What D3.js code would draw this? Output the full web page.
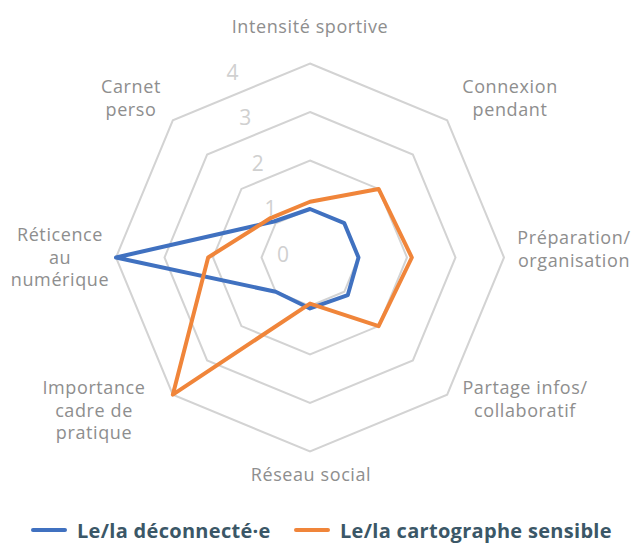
<!DOCTYPE html>
<html>
<head>
<meta charset="utf-8">
<script src="https://cdn.jsdelivr.net/npm/d3@7"></script>
<style>
  body { margin: 0; background: #fff; }
  text { font-family: "Open Sans", sans-serif; }
</style>
</head>
<body>
<div id="chart"></div>
<script>
const width = 632;
const height = 545;

// axes, clockwise from the top
const axes = [
    ["Intensité sportive"],
    ["Connexion", "pendant"],
    ["Préparation/", "organisation"],
    ["Partage infos/", "collaboratif"],
    ["Réseau social"],
    ["Importance", "cadre de", "pratique"],
    ["Réticence", "au", "numérique"],
    ["Carnet", "perso"]
];
const ticks = [0, 1, 2, 3, 4];
const seriesNames = ["Le/la déconnecté·e", "Le/la cartographe sensible"];
const deconnecte = [1.0, 1.0, 1.0, 1.1, 1.05, 1.0, 4.0, 1.05];
const cartographe = [1.15, 2.0, 2.1, 2.0, 0.95, 4.0, 2.1, 1.15];

const colors = ["#4071c0", "#f0853a"];

// layout: where each axis label block sits, relative to the centre
const labelOffsets = [
    [0, -232], [200, -160], [264, -9], [215, 141],
    [1, 216], [-216, 152], [-250, -1], [-179, -160]
];

const cx = 310, cy = 257.5, R = 194;

const r = d3.scaleLinear().domain([0, 4]).range([0, R]);
const angle = d3.scaleLinear().domain([0, axes.length]).range([0, 2 * Math.PI]);

function polar(i, v) {
    const a = angle(i);
    return [cx + r(v) * Math.sin(a), cy - r(v) * Math.cos(a)];
}

const svg = d3.select("#chart")
    .append("svg")
        .attr("width", width)
        .attr("height", height);

// grid rings
const ring = d3.line();
svg.append("g")
        .attr("fill", "none")
        .attr("stroke", "#d3d3d3")
        .attr("stroke-width", 2)
    .selectAll("path")
    .data(ticks.filter(t => t > 0))
    .join("path")
        .attr("d", t => ring(axes.map((_, i) => polar(i, t))) + "Z");

// series lines
const seriesData = [deconnecte, cartographe];
svg.append("g")
        .attr("fill", "none")
        .attr("stroke-width", 4)
        .attr("stroke-linejoin", "round")
    .selectAll("path")
    .data(seriesData)
    .join("path")
        .attr("stroke", (d, k) => colors[k])
        .attr("d", d => ring(d.map((v, i) => polar(i, v))) + "Z");

// tick labels
svg.append("g")
        .attr("fill", "#d0d0d0")
        .attr("font-size", 21)
        .attr("text-anchor", "middle")
        .attr("dominant-baseline", "central")
    .selectAll("text")
    .data(ticks)
    .join("text")
        .attr("x", t => cx - 27 - r(t) * 0.26)
        .attr("y", t => cy - 3.5 - r(t) * 0.94)
        .text(t => t);

// axis labels
const lineH = 22.8;
const lab = svg.append("g")
        .attr("fill", "#8e8e8e")
        .attr("font-size", 18)
        .attr("letter-spacing", 0.6)
        .attr("text-anchor", "middle")
    .selectAll("text")
    .data(axes)
    .join("text")
        .attr("dominant-baseline", "central")
        .attr("x", (d, i) => cx + labelOffsets[i][0])
        .attr("y", (d, i) => cy + labelOffsets[i][1] - (d.length - 1) * lineH / 2);
lab.selectAll("tspan")
    .data(d => d)
    .join("tspan")
        .attr("x", function() { return this.parentNode.getAttribute("x"); })
        .attr("dy", (d, j) => j === 0 ? 0 : lineH)
        .text(d => d);

// legend
const legend = svg.append("g")
        .attr("font-size", 20)
        .attr("letter-spacing", 0.3)
        .attr("font-weight", "bold")
        .attr("fill", "#3b5767");
const legendX = [33, 296];
seriesNames.forEach((name, k) => {
    legend.append("line")
        .attr("x1", legendX[k]).attr("x2", legendX[k] + 32)
        .attr("y1", 530).attr("y2", 530)
        .attr("stroke", colors[k])
        .attr("stroke-width", 4)
        .attr("stroke-linecap", "round");
    legend.append("text")
        .attr("x", legendX[k] + 44)
        .attr("y", 530)
        .attr("dominant-baseline", "central")
        .text(name);
});
</script>
</body>
</html>
